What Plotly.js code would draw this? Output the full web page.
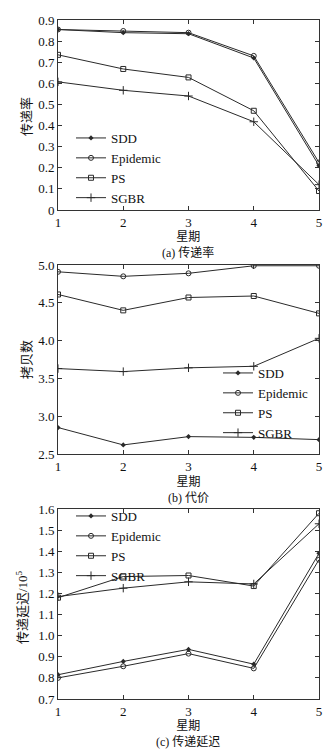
<!DOCTYPE html>
<html><head><meta charset="utf-8">
<script src="https://cdn.plot.ly/plotly-3.0.1.min.js"></script>
<style>html,body{margin:0;padding:0;background:#fff}#c{width:336px;height:751px}</style>
</head><body><div id="c"></div>
<script>
const weeks = [1, 2, 3, 4, 5];
const seriesNames = ['SDD', 'Epidemic', 'PS', 'SGBR'];
// (a) delivery rate
const rateSDD = [0.855, 0.840, 0.835, 0.720, 0.210];
const rateEpidemic = [0.855, 0.848, 0.840, 0.730, 0.225];
const ratePS = [0.735, 0.668, 0.628, 0.470, 0.090];
const rateSGBR = [0.607, 0.567, 0.540, 0.418, 0.120];
// (b) cost
const costSDD = [2.85, 2.62, 2.73, 2.72, 2.69];
const costEpidemic = [4.91, 4.85, 4.89, 4.99, 4.99];
const costPS = [4.61, 4.40, 4.57, 4.59, 4.36];
const costSGBR = [3.63, 3.59, 3.64, 3.66, 4.03];
// (c) delay
const delaySDD = [0.815, 0.878, 0.935, 0.865, 1.39];
const delayEpidemic = [0.800, 0.855, 0.915, 0.845, 1.36];
const delayPS = [1.180, 1.280, 1.285, 1.235, 1.58];
const delaySGBR = [1.185, 1.225, 1.255, 1.245, 1.53];

const W = 336, H = 751;
const font = 'Liberation Serif, Times New Roman, Noto Sans CJK SC, serif';
const cjk = 'Liberation Serif, Noto Sans CJK SC, serif';
const lineColor = '#2a2a2a';
const markers = {
  SDD: {symbol: 'diamond', size: 4, color: lineColor},
  Epidemic: {symbol: 'circle-open', size: 5, color: lineColor, line: {width: 1, color: lineColor}},
  PS: {symbol: 'square-open', size: 5, color: lineColor, line: {width: 1, color: lineColor}},
  SGBR: {symbol: 'cross-thin-open', size: 6, color: lineColor, line: {width: 1, color: lineColor}}
};

const panels = [
  {data: [rateSDD, rateEpidemic, ratePS, rateSGBR], ax: '', legend: 'legend'},
  {data: [costSDD, costEpidemic, costPS, costSGBR], ax: '2', legend: 'legend2'},
  {data: [delaySDD, delayEpidemic, delayPS, delaySGBR], ax: '3', legend: 'legend3'}
];
const traces = [];
panels.forEach(p => {
  p.data.forEach((ys, i) => {
    const name = seriesNames[i];
    traces.push({
      x: weeks, y: ys, name: name, type: 'scatter', mode: 'lines+markers',
      xaxis: 'x' + p.ax, yaxis: 'y' + p.ax, legend: p.legend,
      line: {color: lineColor, width: 1},
      marker: markers[name]
    });
  });
});

const px = v => v / W;
const py = v => 1 - v / H;
const xdom = [px(58), px(319)];
function xax(anchor) {
  return {domain: xdom, anchor: anchor, range: [1, 5], dtick: 1, tick0: 1,
    ticks: 'inside', ticklen: 4, tickcolor: '#333', mirror: 'ticks', showline: true,
    linecolor: '#333', linewidth: 1, showgrid: false, zeroline: false,
    tickfont: {family: font, size: 13, color: '#111'}};
}
function yax(anchor, dom, range, dtick, fmt) {
  const a = {domain: dom, anchor: anchor, range: range, dtick: dtick,
    ticks: 'inside', ticklen: 4, tickcolor: '#333', mirror: 'ticks', showline: true,
    linecolor: '#333', linewidth: 1, showgrid: false, zeroline: false,
    tickfont: {family: font, size: 13, color: '#111'}};
  if (fmt) a.tickformat = fmt;
  return a;
}
function ann(text, x, y, angle, size) {
  return {text: text, x: x, y: y, xref: 'paper', yref: 'paper', showarrow: false,
    xanchor: 'center', yanchor: 'middle', textangle: angle || 0, borderpad: 0,
    font: {family: cjk, size: size || 13, color: '#111'}};
}
const legBase = {bgcolor: 'rgba(0,0,0,0)', borderwidth: 0, xanchor: 'left', yanchor: 'top',
  font: {family: font, size: 13, color: '#111'}, itemwidth: 30, tracegroupgap: 0};

const layout = {
  width: W, height: H, margin: {l: 0, r: 0, t: 0, b: 0},
  paper_bgcolor: '#fff', plot_bgcolor: '#fff', showlegend: true,
  xaxis: xax('y'), yaxis: yax('x', [py(210), py(20)], [0, 0.9], 0.1),
  xaxis2: xax('y2'), yaxis2: yax('x2', [py(454), py(265)], [2.5, 5.0], 0.5, '.1f'),
  xaxis3: xax('y3'), yaxis3: yax('x3', [py(699), py(509)], [0.7, 1.6], 0.1, '.1f'),
  legend: Object.assign({}, legBase, {x: px(71), y: py(123)}),
  legend2: Object.assign({}, legBase, {x: px(218), y: py(358)}),
  legend3: Object.assign({}, legBase, {x: px(71), y: py(501)}),
  annotations: [
    ann('传递率', px(26), py(117), -90, 13),
    ann('星期<br>(a) 传递率', px(188), py(245), 0, 12),
    ann('拷贝数', px(26), py(360), -90, 13),
    ann('星期<br>(b) 代价', px(188), py(490), 0, 12),
    ann('传递延迟/10<sup>5</sup>', px(22), py(607), -90, 13),
    ann('星期<br>(c) 传递延迟', px(188), py(734), 0, 12)
  ]
};
Plotly.newPlot('c', traces, layout, {displayModeBar: false, staticPlot: true});
</script></body></html>
